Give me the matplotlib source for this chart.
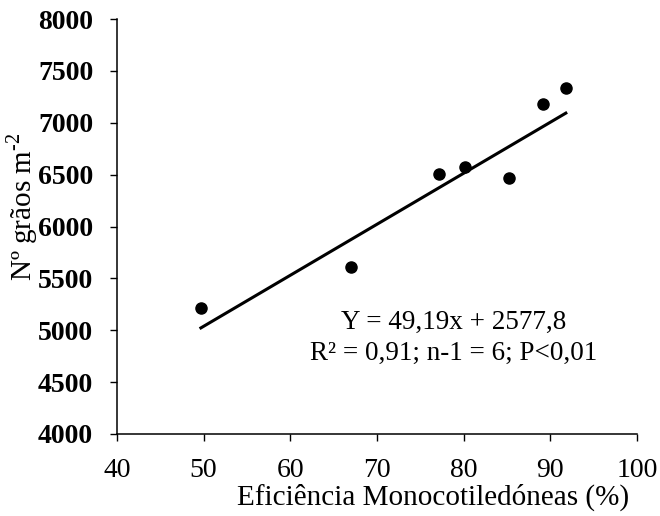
import matplotlib
matplotlib.use("Agg")
import matplotlib.pyplot as plt
import numpy as np

plt.rcParams['font.family'] = ['Liberation Serif', 'DejaVu Serif']
plt.rcParams['mathtext.fontset'] = 'custom'
plt.rcParams['mathtext.rm'] = 'Liberation Serif'

# eficiencia de controle de monocotiledoneas (%) x graos por m2
eficiencia = [49.7, 67.0, 77.2, 80.2, 85.2, 89.2, 91.8]
graos = [5210, 5610, 6505, 6575, 6470, 7185, 7340]

# regressao linear ajustada
coef_a = 49.19
coef_b = 2577.8

xticks = [40, 50, 60, 70, 80, 90, 100]
yticks = [4000, 4500, 5000, 5500, 6000, 6500, 7000, 7500, 8000]

fig = plt.figure(figsize=(6.6, 5.16), dpi=100)
ax = fig.add_axes([0.177, 0.159, 0.788, 0.804])

ax.plot(eficiencia, graos, 'ko', markersize=8)
xr = np.array([min(eficiencia), max(eficiencia)])
ax.plot(xr, coef_a * xr + coef_b, 'k-', linewidth=2.2)

ax.set_xlim(40, 100)
ax.set_ylim(4000, 8000)
ax.set_xticks(xticks)
ax.set_yticks(yticks)
ax.set_xticklabels([str(t) for t in xticks], fontsize=20)
ax.set_yticklabels([str(t) for t in yticks], fontsize=20, fontweight='bold')
ax.tick_params(axis='both', direction='out', length=5, width=1, color='k')
ax.tick_params(axis='x', pad=12)
ax.tick_params(axis='y', pad=12)

for s in ['top', 'right']:
    ax.spines[s].set_visible(False)
for s in ['left', 'bottom']:
    ax.spines[s].set_linewidth(1.1)

ax.set_xlabel('Eficiência Monocotiledóneas (%)', fontsize=21, va='center')
ax.xaxis.set_label_coords(0.608, -0.152)
ax.set_ylabel(r'Nº grãos m$^{\text{-2}}$', fontsize=21, va='center')
ax.yaxis.set_label_coords(-0.183, 0.547)

ax.text(78.8, 5080, 'Y = 49,19x + 2577,8', fontsize=19.5, ha='center', va='center')
ax.text(78.8, 4781, 'R² = 0,91; n-1 = 6; P<0,01', fontsize=19.5, ha='center', va='center')

fig.savefig('out.png', dpi=100)
